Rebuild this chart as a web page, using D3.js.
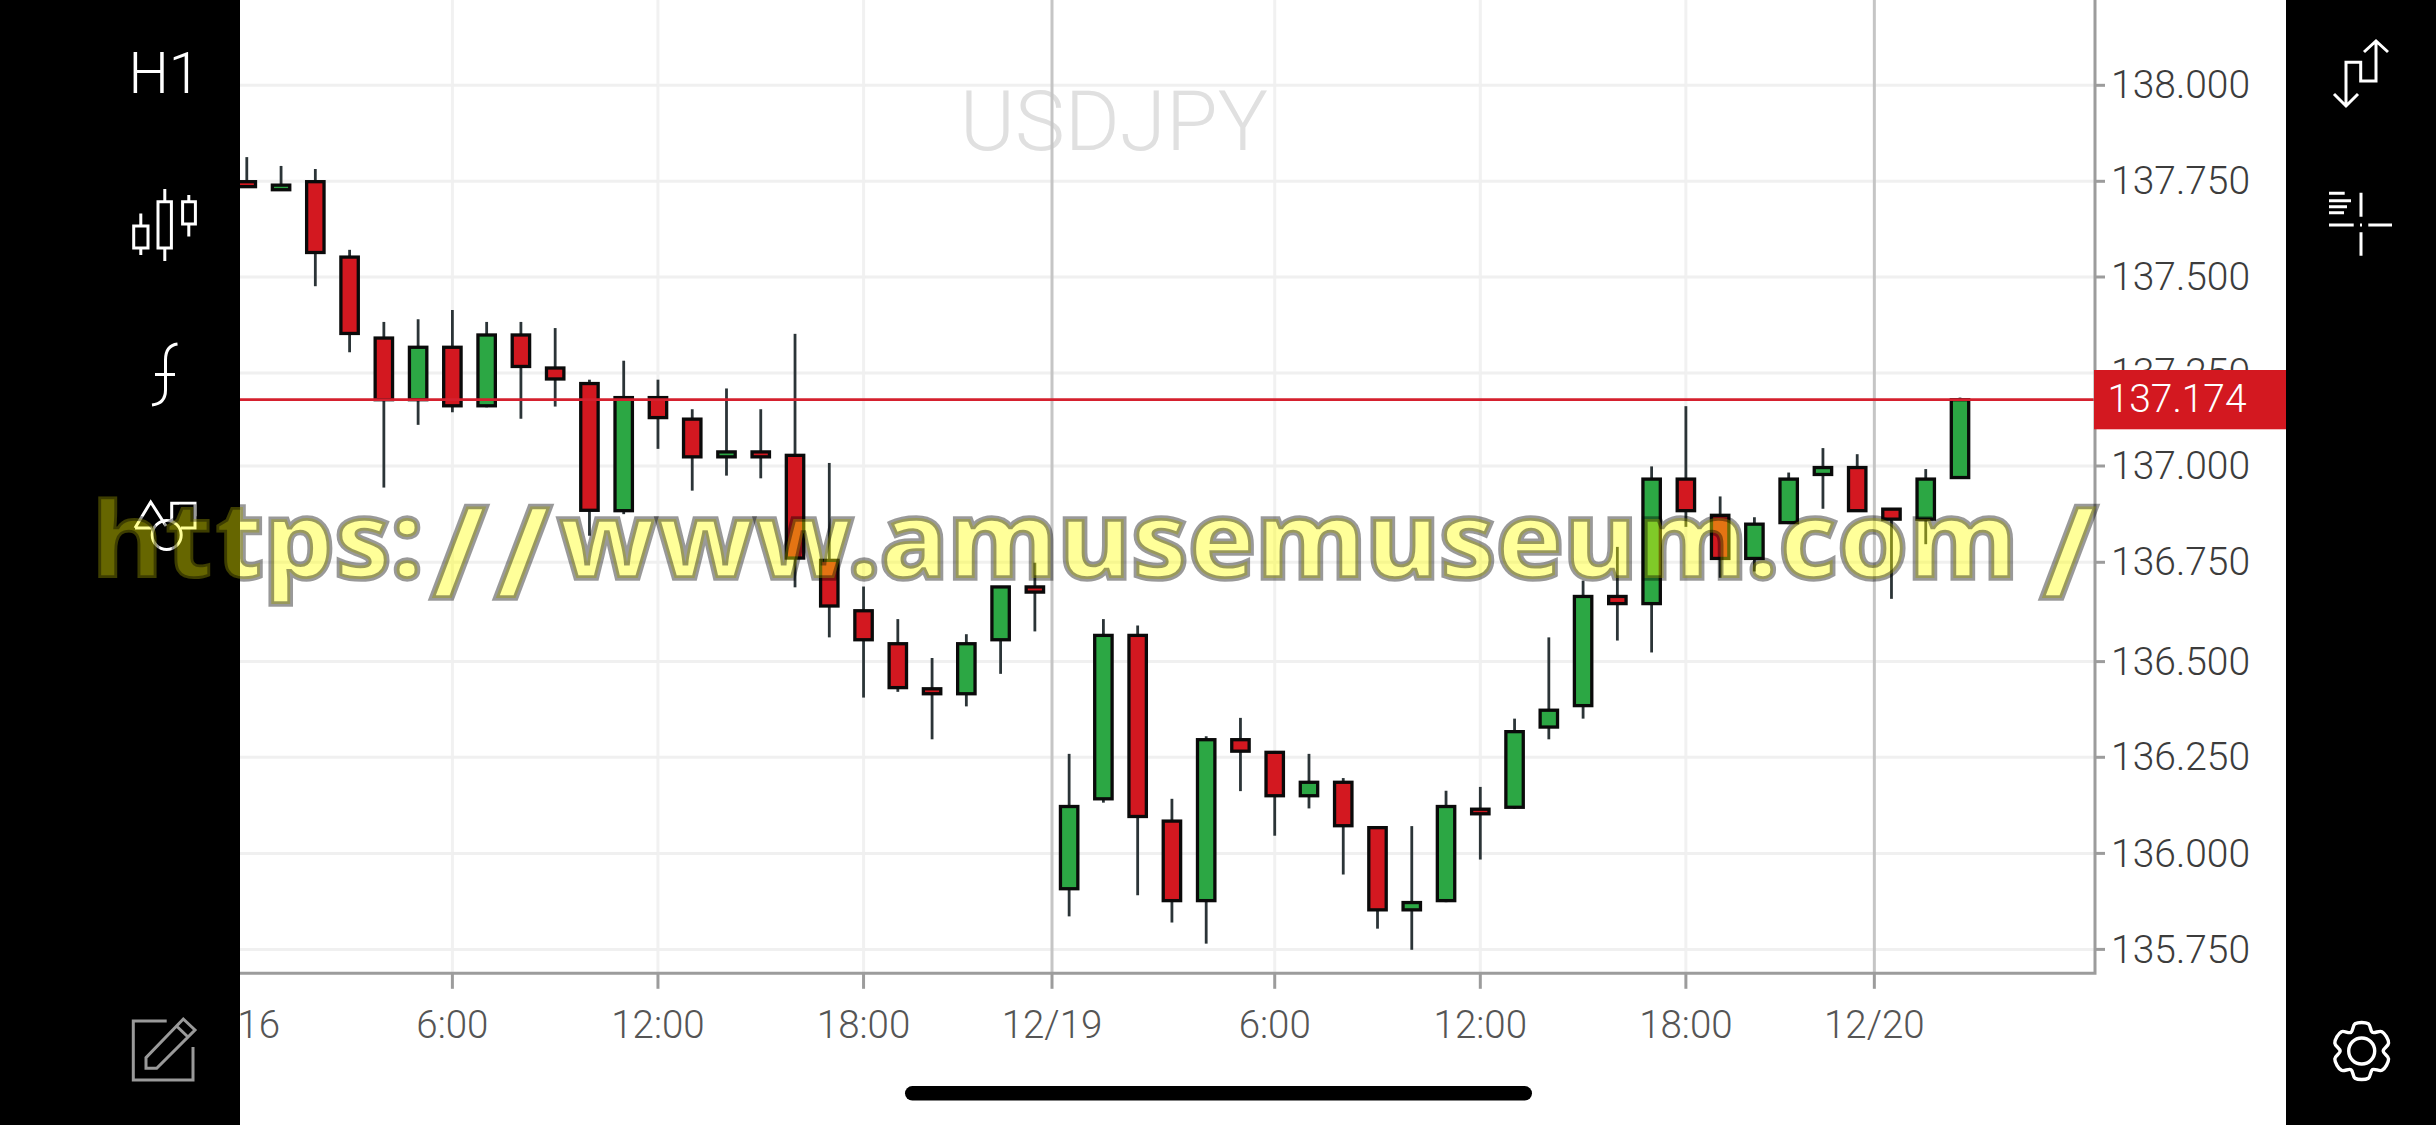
<!DOCTYPE html>
<html><head><meta charset="utf-8">
<script src="https://cdn.jsdelivr.net/npm/d3@7"></script>
<style>html,body{margin:0;padding:0;background:#fff}svg{display:block}text{font-family:"Roboto Light",Roboto,sans-serif;font-weight:300}</style>
</head><body><div id="chart"></div>
<script>
const symbol="USDJPY", timeframe="H1";
const watermarkParts=["https:","/","/","www.amusemuseum.com","/"];
const currentPrice=137.174;
const priceTicks=[138,137.75,137.5,137.25,137,136.75,136.5,136.25,136,135.75];
const timeTicks=[-0.5,6,12,18,23.5,30,36,42,47.5];
const timeLabels=["12/16","6:00","12:00","18:00","12/19","6:00","12:00","18:00","12/20"];
const dateTickLabels=["12/19","12/20"];
const opens=[137.749,137.728,137.749,137.552,137.341,137.174,137.317,137.158,137.349,137.263,137.220,136.884,137.180,137.123,137.024,137.037,137.028,136.755,136.628,136.545,136.429,136.416,136.555,136.688,135.908,136.142,136.566,136.084,135.877,136.296,136.263,136.150,136.185,136.067,135.853,135.877,136.115,136.120,136.329,136.385,136.664,136.646,136.966,136.872,136.760,136.853,136.978,136.996,136.888,136.862,136.970];
const highs=[137.813,137.790,137.782,137.571,137.383,137.390,137.414,137.383,137.383,137.367,137.231,137.282,137.231,137.149,137.206,137.149,137.352,137.008,136.689,136.607,136.509,136.569,136.688,136.749,136.259,136.607,136.591,136.142,136.305,136.353,136.263,136.259,136.196,136.067,136.071,136.163,136.173,136.351,136.561,136.704,136.790,136.999,137.157,136.921,136.867,136.983,137.047,137.031,136.888,136.992,137.180];
const lows=[137.733,137.725,137.476,137.304,136.944,137.108,137.141,137.154,137.124,137.156,136.819,136.875,137.045,136.936,136.975,136.968,136.687,136.561,136.406,136.421,136.297,136.383,136.468,136.576,135.836,136.132,135.891,135.820,135.765,136.162,136.046,136.117,135.945,135.804,135.749,135.873,135.984,136.116,136.297,136.351,136.553,136.523,136.842,136.711,136.727,136.849,136.889,136.881,136.658,136.797,136.970];
const closes=[137.736,137.740,137.564,137.353,137.174,137.317,137.158,137.349,137.267,137.233,136.885,137.180,137.127,137.024,137.037,137.024,136.761,136.640,136.555,136.432,136.416,136.545,136.688,136.675,136.122,136.566,136.096,135.877,136.296,136.266,136.150,136.185,136.072,135.853,135.872,136.122,136.103,136.317,136.373,136.664,136.646,136.966,136.884,136.760,136.849,136.966,136.996,136.884,136.862,136.966,137.174];

const W=2436,H=1125;
const svg=d3.select("#chart").append("svg").attr("width",W).attr("height",H).attr("viewBox",`0 0 ${W} ${H}`);
const axisX=2095, axisY=973.3;
const x=d3.scaleLinear().domain([0,50]).range([246.8,1960]);
const yKnots=[138,137.75,137.5,137.25,currentPrice,137,136.75,136.5,136.25,136,135.75];
const y=d3.scaleLinear().domain(yKnots).range([85.3,181.3,277,373,399.7,466,562.3,661.6,757.3,853.4,949.4]);
const RED="#d31820",GREEN="#2ca744",WICK="#2b3437",AXIS="#9c9c9c";

svg.append("rect").attr("width",W).attr("height",H).attr("fill","#fff");
svg.append("text").attr("x",1114).attr("y",150).attr("text-anchor","middle").attr("font-size",84).attr("fill","#e0e0e0").text(symbol);

const grid=svg.append("g");
grid.selectAll(".h").data(priceTicks).join("line").attr("x1",240).attr("x2",axisX).attr("y1",d=>y(d)).attr("y2",d=>y(d)).attr("stroke","#f0f0f0").attr("stroke-width",3);
grid.selectAll(".v").data(timeTicks).join("line").attr("x1",d=>x(d)).attr("x2",d=>x(d)).attr("y1",0).attr("y2",axisY)
  .attr("stroke",(d,i)=>dateTickLabels.includes(timeLabels[i])?"#c2c2c2":"#efefef").attr("stroke-opacity",(d,i)=>dateTickLabels.includes(timeLabels[i])?0.95:0.9).attr("stroke-width",3);

const idx=d3.range(opens.length);
const candles=svg.append("g");
candles.selectAll(".wick").data(idx).join("line").attr("x1",i=>x(i)).attr("x2",i=>x(i)).attr("y1",i=>y(highs[i])).attr("y2",i=>y(lows[i])).attr("stroke",WICK).attr("stroke-width",2.8);
candles.selectAll(".body").data(idx).join("rect")
  .attr("x",i=>x(i)-8.7).attr("width",17.4)
  .attr("y",i=>y(Math.max(opens[i],closes[i]))).attr("height",i=>Math.abs(y(opens[i])-y(closes[i])))
  .attr("fill",i=>closes[i]>opens[i]?GREEN:RED).attr("stroke","#0a0a0a").attr("stroke-width",3.3);

svg.append("line").attr("x1",240).attr("x2",axisX).attr("y1",y(currentPrice)).attr("y2",y(currentPrice)).attr("stroke","#d5202e").attr("stroke-width",2.8);

const yAxis=svg.append("g").attr("transform",`translate(${axisX},0)`).call(d3.axisRight(y).offset(0).tickValues(priceTicks).tickFormat(d3.format(".3f")).tickSize(10).tickPadding(6));
yAxis.select(".domain").remove();
yAxis.selectAll("line").attr("stroke",AXIS).attr("stroke-width",3);
yAxis.selectAll("text").attr("font-size",39).attr("fill","#3c3c3c").attr("dy","0.338em");

const xAxis=svg.append("g").attr("transform",`translate(0,${axisY})`).call(d3.axisBottom(x).offset(0).tickValues(timeTicks).tickFormat((d,i)=>timeLabels[i]).tickSize(15.5));
xAxis.select(".domain").remove();
xAxis.selectAll("line").attr("stroke",AXIS).attr("stroke-width",3);
xAxis.selectAll("text").attr("y",65).attr("dy",0).attr("font-size",38.5).attr("fill","#555");
yAxis.attr("font-family",null); xAxis.attr("font-family",null);

svg.append("path").attr("d",`M${axisX},0V${axisY}H240`).attr("fill","none").attr("stroke",AXIS).attr("stroke-width",3);

// current price tag
svg.append("rect").attr("x",axisX-1).attr("y",370).attr("width",2286-axisX+1).attr("height",59.3).attr("fill",RED);
svg.append("text").attr("x",2107.5).attr("y",y(currentPrice)).attr("dy","0.31em").attr("font-size",39).attr("fill","#fff").text(d3.format(".3f")(currentPrice));

// side panels
svg.append("rect").attr("x",0).attr("y",0).attr("width",240).attr("height",H).attr("fill","#000");
svg.append("rect").attr("x",2286).attr("y",0).attr("width",150).attr("height",H).attr("fill","#000");

// left icons
svg.append("text").attr("x",164.5).attr("y",93).attr("text-anchor","middle").attr("font-size",57).attr("fill","#fff").text(timeframe);
const ic=svg.append("g").attr("fill","none").attr("stroke","#fff").attr("stroke-width",3);
ic.append("path").attr("d","M140.8,213.5V226M140.8,248V255M133.7,226H148V248H133.7ZM164.8,189V201.7M164.8,248V261M158,201.7H171.4V248H158ZM188.8,195V201.7M188.8,224V236.5M182.6,201.7H195.4V224H182.6Z");
ic.append("path").attr("d","M177.5,344C169,345 165.5,351 165.5,360V390C165.5,399 161,404 152,405M155,374.5H175");
ic.append("path").attr("d","M135,528L150.7,502L166,526M135,528H152M171.7,522V503.3H195V528H181");
ic.append("circle").attr("cx",166.7).attr("cy",535).attr("r",14.5);
const pen=svg.append("g").attr("fill","none").attr("stroke","#9a9a9a").attr("stroke-width",3);
pen.append("path").attr("d","M166.7,1021H133.3V1080H193V1047");
pen.append("path").attr("d","M146,1068.3V1057.7L183.3,1019L195,1030L156.7,1068.3ZM176.5,1026L188,1037");

// right icons
const ir=svg.append("g").attr("fill","none").attr("stroke","#fff").attr("stroke-width",3);
ir.append("path").attr("d","M2376,41V81H2360.7V62.3H2346V106M2364,52L2376,41L2388,52M2334,94L2346,106L2358,94");
ir.append("path").attr("d","M2329,193.3H2344.7M2329,200.7H2351M2329,206.7H2347M2329,212.7H2344M2361,192.7V216.7M2361,232.3V255.7M2329,225H2353.7M2368.3,225H2392M2360,225H2362");
const gearPts=d3.range(6).flatMap(k=>{const a=k*Math.PI/3;return [[a-0.24,28],[a+0.24,28],[a+0.52,21.5]];});
ir.append("path").attr("transform","translate(2361.7,1051)").attr("stroke-width",3.4).attr("d",d3.lineRadial().curve(d3.curveCatmullRomClosed).angle(d=>d[0]).radius(d=>d[1])(gearPts));
ir.append("circle").attr("cx",2361.7).attr("cy",1051).attr("r",13).attr("stroke-width",3.4);

// home indicator
svg.append("rect").attr("x",905).attr("y",1086).attr("width",627).attr("height",14.6).attr("rx",7.3).attr("fill","#000");

// watermark: parts placed where the reference places them
const wmStarts=[90.5,431,495,558,2041], wmStretch=1.042;
svg.append("text").attr("transform",`translate(0,578) scale(${wmStretch},1)`).attr("font-size",107)
  .style("font-family","'Noto Sans'").style("font-weight",800)
  .attr("fill","rgba(255,255,0,0.4)").attr("stroke","rgba(0,0,0,0.4)").attr("stroke-width",5.5)
  .selectAll("tspan").data(watermarkParts).join("tspan")
  .attr("x",(d,i)=>wmStarts[i]/wmStretch)
  .attr("y",d=>d==="/"?19:0)
  .attr("font-size",d=>d==="/"?125:107)
  .text(d=>d);
</script></body></html>
